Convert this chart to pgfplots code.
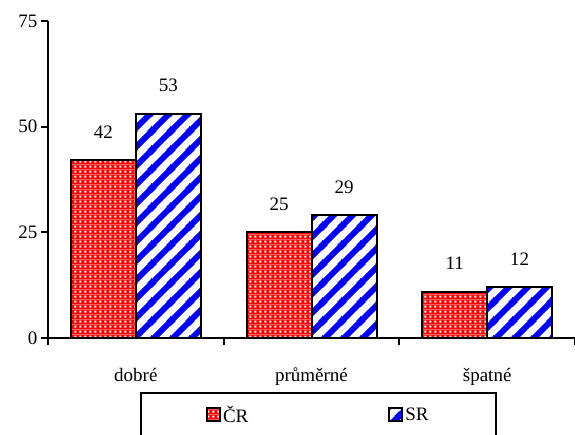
\documentclass[border=0pt]{standalone}
\usepackage{fontspec}
\setmainfont{Liberation Serif}
\usepackage{pgfplots}
\pgfplotsset{compat=1.18}
\usetikzlibrary{patterns.meta}

% red with white dots
\tikzdeclarepattern{
  name=reddots, type=colored,
  bottom left={(0pt,0pt)}, top right={(5.3pt,5.3pt)},
  tile size={(5.3pt,5.3pt)},
  code={
    \fill[red] (0pt,0pt) rectangle (5.3pt,5.3pt);
    \fill[white] (1.6pt,1.6pt) rectangle (3.7pt,3.7pt);
  }
}
% blue wide diagonal stripes on white
\tikzdeclarepattern{
  name=bluestripes, type=colored,
  bottom left={(0pt,0pt)}, top right={(19pt,19pt)},
  tile size={(19pt,19pt)},
  code={
    \fill[white] (0pt,0pt) rectangle (19pt,19pt);
    \draw[blue, line width=6pt] (-3pt,-3pt) -- (22pt,22pt);
    \draw[blue, line width=6pt] (-3pt,16pt) -- (3pt,22pt);
    \draw[blue, line width=6pt] (16pt,-3pt) -- (22pt,3pt);
  }
}

\newcommand{\chartfont}{\fontsize{19}{22}\selectfont}
\pgfplotsset{
  boxlegend/.style={
    legend image code/.code={\draw[##1, line width=2pt] (0pt,-6.5pt) rectangle (13pt,6.5pt);}
  }
}

\begin{document}
\begin{tikzpicture}
\begin{axis}[
    scale only axis,
    width=527pt, height=317pt,
    ybar=0pt, bar width=65pt,
    xmin=-0.5, xmax=2.5,
    ymin=0, ymax=75,
    ytick={0,25,50,75},
    xtick={0,1,2},
    xticklabels={dobré, průměrné, špatné},
    minor xtick={-0.5,0.5,1.5,2.5},
    major x tick style={draw=none},
    axis x line*=bottom, axis y line*=left,
    axis line style={line width=2pt},
    tick align=outside,
    tick style={line width=2pt, black},
    major tick length=7pt, minor tick length=7pt,
    /pgf/number format/assume math mode=true,
    every tick label/.append style={font=\chartfont},
    xticklabel style={anchor=base, yshift=-36pt},
    nodes near coords,
    nodes near coords style={font=\chartfont, anchor=base, yshift=22pt, inner sep=0pt},
    legend columns=2,
    legend style={
        at={(0.1746,-0.1703)}, anchor=north west,
        draw=black, line width=2pt, font=\chartfont,
        inner xsep=65pt, inner ysep=11pt,
        /tikz/every even column/.append style={column sep=138pt},
    },
]
\addplot[draw=black, line width=2pt, pattern=reddots, boxlegend]
    coordinates {(0,42) (1,25) (2,11)};
\addplot[draw=black, line width=2pt, pattern=bluestripes, boxlegend]
    coordinates {(0,53) (1,29) (2,12)};
\legend{ČR, SR}
\end{axis}
\pgfresetboundingbox
\path[use as bounding box] (-48pt,-96pt) rectangle (527pt,338pt);
\end{tikzpicture}
\end{document}
